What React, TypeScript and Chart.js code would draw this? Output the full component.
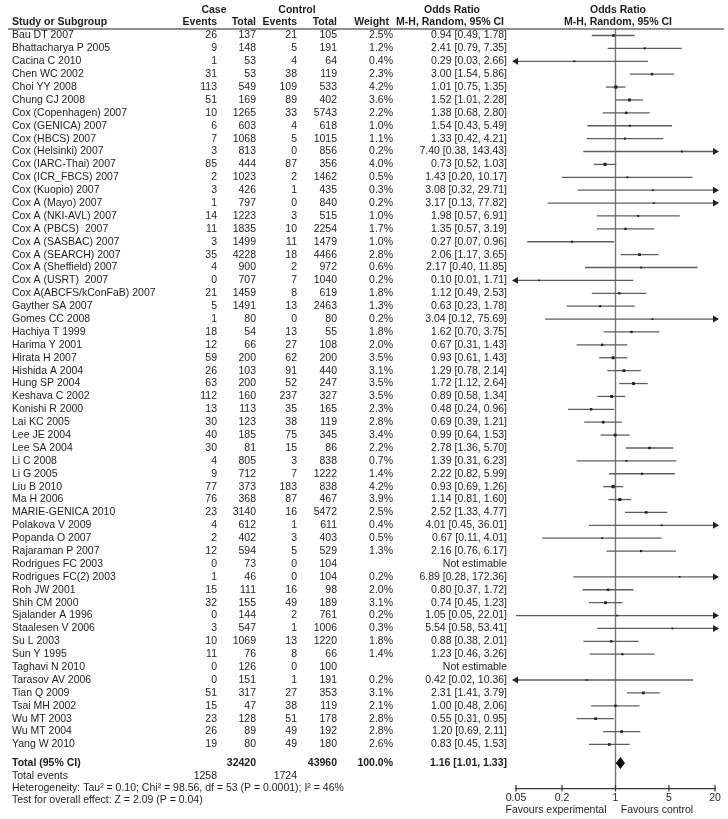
import React, { useEffect, useRef } from "react";
import { Chart, registerables } from "chart.js";
Chart.register(...registerables);

const studies = ["Bau DT 2007","Bhattacharya P 2005","Cacina C 2010","Chen WC 2002","Choi YY 2008","Chung CJ 2008","Cox (Copenhagen) 2007","Cox (GENICA) 2007","Cox (HBCS) 2007","Cox (Helsinki) 2007","Cox (IARC-Thai) 2007","Cox (ICR_FBCS) 2007","Cox (Kuopio) 2007","Cox A (Mayo) 2007","Cox A (NKI-AVL) 2007","Cox A (PBCS)  2007","Cox A (SASBAC) 2007","Cox A (SEARCH) 2007","Cox A (Sheffield) 2007","Cox A (USRT)  2007","Cox A(ABCFS/kConFaB) 2007","Gayther SA 2007","Gomes CC 2008","Hachiya T 1999","Harima Y 2001","Hirata H 2007","Hishida A 2004","Hung SP 2004","Keshava C 2002","Konishi R 2000","Lai KC 2005","Lee JE 2004","Lee SA 2004","Li C 2008","Li G 2005","Liu B 2010","Ma H 2006","MARIE-GENICA 2010","Polakova V 2009","Popanda O 2007","Rajaraman P 2007","Rodrigues FC 2003","Rodrigues FC(2) 2003","Roh JW 2001","Shih CM 2000","Sjalander A 1996","Staalesen V 2006","Su L 2003","Sun Y 1995","Taghavi N 2010","Tarasov AV 2006","Tian Q 2009","Tsai MH 2002","Wu MT 2003","Wu MT 2004","Yang W 2010"];

const caseEvents = [26,9,1,31,113,51,10,6,7,3,85,2,3,1,14,11,3,35,4,0,21,5,1,18,12,59,26,63,112,13,30,40,30,4,9,77,76,23,4,2,12,0,1,15,32,0,3,10,11,0,0,51,15,23,26,19];
const caseTotals = [137,148,53,53,549,169,1265,603,1068,813,444,1023,426,797,1223,1835,1499,4228,900,707,1459,1491,80,54,66,200,103,200,160,113,123,185,81,805,712,373,368,3140,612,402,594,73,46,111,155,144,547,1069,76,126,151,317,47,128,89,80];
const controlEvents = [21,5,4,38,109,89,33,4,5,0,87,2,1,0,3,10,11,18,2,7,8,13,0,13,27,62,91,52,237,35,38,75,15,3,7,183,87,16,1,3,5,0,0,16,49,2,1,13,8,0,1,27,38,51,49,49];
const controlTotals = [105,191,64,119,533,402,5743,618,1015,856,356,1462,435,840,515,2254,1479,4466,972,1040,619,2463,80,55,108,200,440,247,327,165,119,345,86,838,1222,838,467,5472,611,403,529,104,104,98,189,761,1006,1220,66,100,191,353,119,178,192,180];
const weights: (number | null)[] = [2.5,1.2,0.4,2.3,4.2,3.6,2.2,1.0,1.1,0.2,4.0,0.5,0.3,0.2,1.0,1.7,1.0,2.8,0.6,0.2,1.8,1.3,0.2,1.8,2.0,3.5,3.1,3.5,3.5,2.3,2.8,3.4,2.2,0.7,1.4,4.2,3.9,2.5,0.4,0.5,1.3,null,0.2,2.0,3.1,0.2,0.3,1.8,1.4,null,0.2,3.1,2.1,2.8,2.8,2.6];
const oddsRatios: (number | null)[] = [0.94,2.41,0.29,3.00,1.01,1.52,1.38,1.54,1.33,7.40,0.73,1.43,3.08,3.17,1.98,1.35,0.27,2.06,2.17,0.10,1.12,0.63,3.04,1.62,0.67,0.93,1.29,1.72,0.89,0.48,0.69,0.99,2.78,1.39,2.22,0.93,1.14,2.52,4.01,0.67,2.16,null,6.89,0.80,0.74,1.05,5.54,0.88,1.23,null,0.42,2.31,1.00,0.55,1.20,0.83];
const ciLower: (number | null)[] = [0.49,0.79,0.03,1.54,0.75,1.01,0.68,0.43,0.42,0.38,0.52,0.20,0.32,0.13,0.57,0.57,0.07,1.17,0.40,0.01,0.49,0.23,0.12,0.70,0.31,0.61,0.78,1.12,0.58,0.24,0.39,0.64,1.36,0.31,0.82,0.69,0.81,1.33,0.45,0.11,0.76,null,0.28,0.37,0.45,0.05,0.58,0.38,0.46,null,0.02,1.41,0.48,0.31,0.69,0.45];
const ciUpper: (number | null)[] = [1.78,7.35,2.66,5.86,1.35,2.28,2.80,5.49,4.21,143.43,1.03,10.17,29.71,77.82,6.91,3.19,0.96,3.65,11.85,1.71,2.53,1.78,75.69,3.75,1.43,1.43,2.14,2.64,1.34,0.96,1.21,1.53,5.70,6.23,5.99,1.26,1.60,4.77,36.01,4.01,6.17,null,172.36,1.72,1.23,22.01,53.41,2.01,3.26,null,10.36,3.79,2.06,0.95,2.11,1.53];

const xTicks = [0.05, 0.2, 1, 5, 20];
const X_MIN = 0.05;
const X_MAX = 20;

const totalCaseEvents = 1258;
const totalControlEvents = 1724;
const totalCase = 32420;
const totalControl = 43960;
const totalWeight = 100.0;
const totalOR = 1.16;
const totalLower = 1.01;
const totalUpper = 1.33;

const heterogeneityText = "Heterogeneity: Tau\u00B2 = 0.10; Chi\u00B2 = 98.56, df = 53 (P = 0.0001); I\u00B2 = 46%";
const overallEffectText = "Test for overall effect: Z = 2.09 (P = 0.04)";
const favoursLeft = "Favours experimental";
const favoursRight = "Favours control";

// row positions (in row units on the y scale)
const Y_MIN = -0.504;
const Y_MAX = 58.456;
const ROW_HEAD1 = -1.98;
const ROW_HEAD2 = -1.0;
const ROW_TOTAL = 56.44;
const ROW_EVENTS = 57.45;
const ROW_HET = 58.38;
const ROW_TEST = 59.31;
const ROW_FAVOURS = 60.12;

const FONT = '"Liberation Sans", Arial, Helvetica, sans-serif';
const TEXT = "#1e1e1e";

const COL = { name: 12, caseEv: 217, caseTot: 256, ctrlEv: 297, ctrlTot: 337, weight: 393, or: 507, caseHeadC: 214, ctrlHeadC: 297, orHeadC: 452, plotHeadC: 618, favL: 556, favR: 657 };

const fmt2 = (v: number) => v.toFixed(2);

const forestPlugin = {
  id: "forestText",
  afterDatasetsDraw(chart: any) {
    const ctx = chart.ctx;
    const xs = chart.scales.x;
    const ys = chart.scales.y;
    const Y = (v: number) => ys.getPixelForValue(v);
    ctx.save();
    const yc = Y(ROW_TOTAL);
    const xl = xs.getPixelForValue(totalLower);
    const xm = xs.getPixelForValue(totalOR);
    const xr = xs.getPixelForValue(totalUpper);
    ctx.fillStyle = "#000";
    ctx.beginPath();
    ctx.moveTo(xl, yc);
    ctx.lineTo(xm, yc - 6);
    ctx.lineTo(xr, yc);
    ctx.lineTo(xm, yc + 6);
    ctx.closePath();
    ctx.fill();
    ctx.strokeStyle = "#333";
    ctx.lineWidth = 1.2;
    const by = chart.chartArea.bottom;
    xTicks.forEach((t) => {
      const px = xs.getPixelForValue(t);
      ctx.beginPath();
      ctx.moveTo(px, by - 4);
      ctx.lineTo(px, by + 2.5);
      ctx.stroke();
    });
    ctx.restore();
  },
  afterDraw(chart: any) {
    const ctx = chart.ctx;
    const ys = chart.scales.y;
    const Y = (v: number) => ys.getPixelForValue(v);
    ctx.save();
    ctx.fillStyle = TEXT;
    ctx.textBaseline = "middle";
    const bold = `bold 10.5px ${FONT}`;
    const norm = `10.5px ${FONT}`;
    const txt = (s: string, x: number, y: number, align: CanvasTextAlign, font: string) => {
      ctx.font = font;
      ctx.textAlign = align;
      ctx.fillText(s, x, y);
    };
    const h1 = Y(ROW_HEAD1);
    const h2 = Y(ROW_HEAD2);
    txt("Case", COL.caseHeadC, h1, "center", bold);
    txt("Control", COL.ctrlHeadC, h1, "center", bold);
    txt("Odds Ratio", COL.orHeadC, h1, "center", bold);
    txt("Odds Ratio", COL.plotHeadC, h1, "center", bold);
    txt("Study or Subgroup", COL.name, h2, "left", bold);
    txt("Events", COL.caseEv, h2, "right", bold);
    txt("Total", COL.caseTot, h2, "right", bold);
    txt("Events", COL.ctrlEv, h2, "right", bold);
    txt("Total", COL.ctrlTot, h2, "right", bold);
    txt("Weight", COL.weight - 4, h2, "right", bold);
    txt("M-H, Random, 95% CI", COL.or - 3, h2, "right", bold);
    txt("M-H, Random, 95% CI", COL.plotHeadC, h2, "center", bold);
    ctx.strokeStyle = "#222";
    ctx.lineWidth = 1.2;
    const ruleY = chart.chartArea.top;
    ctx.beginPath();
    ctx.moveTo(8, ruleY);
    ctx.lineTo(724, ruleY);
    ctx.stroke();
    studies.forEach((s, i) => {
      const y = Y(i);
      txt(s, COL.name, y, "left", norm);
      txt(String(caseEvents[i]), COL.caseEv, y, "right", norm);
      txt(String(caseTotals[i]), COL.caseTot, y, "right", norm);
      txt(String(controlEvents[i]), COL.ctrlEv, y, "right", norm);
      txt(String(controlTotals[i]), COL.ctrlTot, y, "right", norm);
      const w = weights[i];
      const o = oddsRatios[i];
      if (w != null) txt(w.toFixed(1) + "%", COL.weight, y, "right", norm);
      if (o != null) {
        txt(`${fmt2(o)} [${fmt2(ciLower[i] as number)}, ${fmt2(ciUpper[i] as number)}]`, COL.or, y, "right", norm);
      } else {
        txt("Not estimable", COL.or, y, "right", norm);
      }
    });
    const ty = Y(ROW_TOTAL);
    txt("Total (95% CI)", COL.name, ty, "left", bold);
    txt(String(totalCase), COL.caseTot, ty, "right", bold);
    txt(String(totalControl), COL.ctrlTot, ty, "right", bold);
    txt(totalWeight.toFixed(1) + "%", COL.weight, ty, "right", bold);
    txt(`${fmt2(totalOR)} [${fmt2(totalLower)}, ${fmt2(totalUpper)}]`, COL.or, ty, "right", bold);
    const ey = Y(ROW_EVENTS);
    txt("Total events", COL.name, ey, "left", norm);
    txt(String(totalCaseEvents), COL.caseEv, ey, "right", norm);
    txt(String(totalControlEvents), COL.ctrlEv, ey, "right", norm);
    txt(heterogeneityText, COL.name, Y(ROW_HET), "left", norm);
    txt(overallEffectText, COL.name, Y(ROW_TEST), "left", norm);
    txt(favoursLeft, COL.favL, Y(ROW_FAVOURS), "center", norm);
    txt(favoursRight, COL.favR, Y(ROW_FAVOURS), "center", norm);
    ctx.restore();
  },
};

export default function App() {
  const ref = useRef<HTMLCanvasElement | null>(null);
  useEffect(() => {
    if (!ref.current) return;
    const idx = studies.map((_, i) => i).filter((i) => oddsRatios[i] != null);
    const whiskers = idx.map((i) => ({
      type: "scatter" as const,
      showLine: true,
      data: [
        { x: Math.max(ciLower[i] as number, X_MIN), y: i },
        { x: Math.min(ciUpper[i] as number, X_MAX), y: i },
      ],
      borderColor: "#5e5e5e",
      borderWidth: 1.3,
      pointRadius: 0,
      order: 5,
      clip: false as any,
    }));
    const arrowPts: { x: number; y: number }[] = [];
    const arrowRot: number[] = [];
    idx.forEach((i) => {
      if ((ciUpper[i] as number) > X_MAX) { arrowPts.push({ x: X_MAX, y: i }); arrowRot.push(90); }
      if ((ciLower[i] as number) < X_MIN) { arrowPts.push({ x: X_MIN, y: i }); arrowRot.push(-90); }
    });
    const chart = new Chart(ref.current, {
      type: "scatter",
      data: {
        datasets: [
          {
            data: [{ x: 1, y: Y_MIN }, { x: 1, y: Y_MAX }],
            showLine: true,
            borderColor: "#777",
            borderWidth: 1.4,
            pointRadius: 0,
            order: 10,
          } as any,
          ...whiskers,
          {
            data: idx.map((i) => ({ x: oddsRatios[i] as number, y: i })),
            pointStyle: "rect",
            pointRadius: idx.map((i) => 1.2 + (weights[i] as number) * 0.25),
            backgroundColor: "#222",
            borderWidth: 0,
            order: 1,
          } as any,
          {
            data: arrowPts,
            pointStyle: "triangle",
            pointRadius: 4,
            pointRotation: arrowRot,
            backgroundColor: "#222",
            borderColor: "#222",
            borderWidth: 0,
            order: 1,
            clip: false,
          } as any,
        ],
      },
      options: {
        responsive: false,
        animation: false,
        devicePixelRatio: 1,
        layout: { padding: { left: 516, right: 13, top: 29, bottom: 0 } },
        plugins: { legend: { display: false }, tooltip: { enabled: false } },
        scales: {
          x: {
            type: "logarithmic",
            min: X_MIN,
            max: X_MAX,
            afterBuildTicks: (scale: any) => {
              scale.ticks = xTicks.map((v) => ({ value: v }));
            },
            afterFit: (scale: any) => {
              scale.height = 30;
            },
            grid: { display: false, drawTicks: false, tickLength: 0 },
            border: { display: true, color: "#333", width: 1.2 },
            ticks: {
              autoSkip: false,
              maxRotation: 0,
              padding: 3,
              color: TEXT,
              font: { family: FONT, size: 10.5 },
              callback: (v: any) => String(v),
            },
          },
          y: {
            type: "linear",
            reverse: true,
            min: Y_MIN,
            max: Y_MAX,
            display: false,
          },
        },
      },
      plugins: [forestPlugin],
    });
    return () => chart.destroy();
  }, []);
  return (
    <div style={{ position: "absolute", left: 0, top: 0, width: 728, height: 819, background: "#fff" }}>
      <canvas ref={ref} width={728} height={819} />
    </div>
  );
}
